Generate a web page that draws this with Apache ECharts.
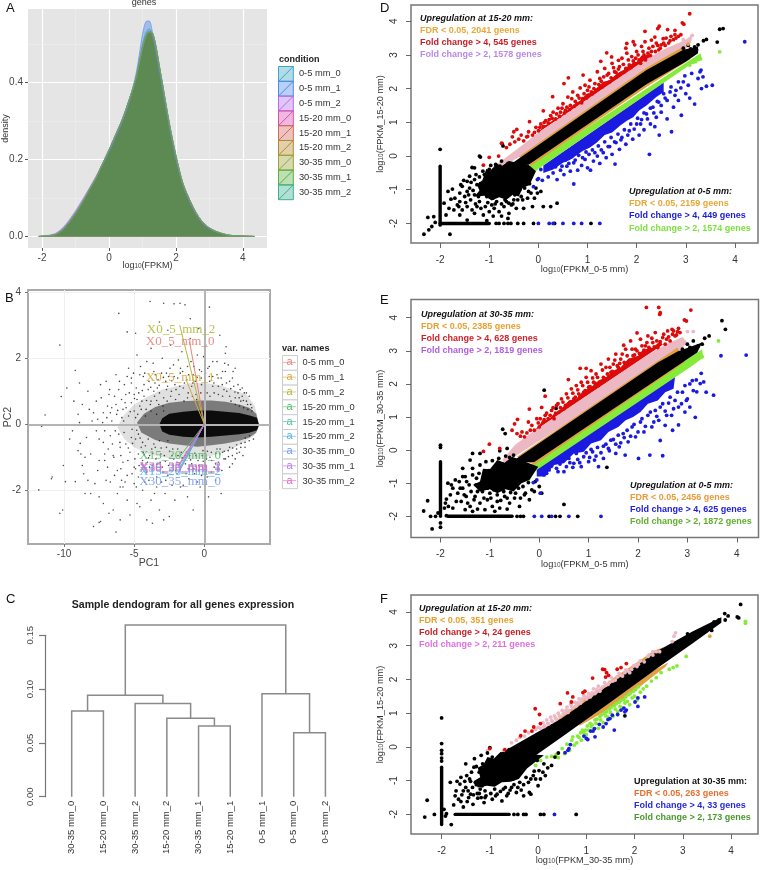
<!DOCTYPE html>
<html><head><meta charset="utf-8"><style>html,body{margin:0;padding:0;background:#fff}#c{width:760px;height:870px}</style>
<script src="https://cdn.jsdelivr.net/npm/echarts@6/dist/echarts.min.js"></script></head><body><div id="c"></div>
<script>
const conditions=['0-5 mm_0','0-5 mm_1','0-5 mm_2','15-20 mm_0','15-20 mm_1','15-20 mm_2','30-35 mm_0','30-35 mm_1','30-35 mm_2'];
const densityX=[-2.1,-1.8,-1.6,-1.4,-1.2,-1,-.8,-.6,-.4,-.2,0,.2,.4,.6,.8,.9,1,1.1,1.2,1.3,1.4,1.5,1.6,1.8,2,2.2,2.4,2.6,2.8,3,3.2,3.4,3.6,3.8,4,4.35];
const densityBlue=[0,.002,.006,.018,.038,.062,.09,.12,.15,.185,.22,.26,.3,.35,.42,.47,.525,.558,.56,.53,.48,.43,.38,.285,.2,.135,.092,.058,.034,.02,.012,.007,.003,.002,.001,0];
const densityLight=[0,.002,.006,.018,.038,.063,.09,.12,.15,.185,.22,.26,.3,.35,.41,.455,.5,.53,.54,.525,.485,.44,.39,.29,.205,.137,.094,.06,.035,.02,.012,.007,.003,.002,.001,0];
const densityMain=[0,.002,.005,.016,.036,.06,.088,.12,.15,.188,.225,.265,.305,.355,.41,.45,.49,.52,.532,.528,.495,.445,.395,.295,.21,.14,.097,.062,.037,.022,.013,.007,.003,.002,.001,0];
const densityPurple=[0,.003,.008,.021,.042,.067,.095,.124,.155,.188,.222,.26,.3,.35,.41,.452,.495,.522,.532,.52,.485,.44,.39,.288,.203,.136,.093,.058,.034,.02,.012,.007,.003,.002,.001,0];
const conditionColors=['#3ea6c6','#4f8ae8','#b36de8','#d84fb0','#d06a5c','#b58a2e','#9aa23a','#58b040','#3fae92'];
const densitySets=[densityLight,densityBlue,densityPurple,densityMain,densityMain,densityMain,densityMain,densityMain,densityMain];

const varNames=['X0_5_mm_0','X0_5_mm_1','X0_5_mm_2','X15_20_mm_0','X15_20_mm_1','X15_20_mm_2','X30_35_mm_0','X30_35_mm_1','X30_35_mm_2'];
const varColors=['#e8837a','#d8a83c','#b4b83a','#55bf68','#4cc4a0','#55b4e8','#7c9cf0','#b878ee','#e868c8'];
const varTips=[[-1.05,2.5],[-1.3,1.35],[-1.75,3],[-1.75,-.98],[-1.7,-1.28],[-1.75,-1.4],[-1.9,-1.5],[-1.85,-1.3],[-1.9,-1.28]];
const varLabels=[[-1.73,2.5],[-1.73,1.41],[-1.66,2.86],[-1.73,-.95],[-1.73,-1.3],[-1.73,-1.44],[-1.73,-1.74],[-1.73,-1.34],[-1.73,-1.28]];
const pcaCore=[[3.9,-.02],[3.75,.2],[3.3,.26],[2.5,.34],[1.5,.38],[.5,.42],[-.5,.42],[-1.5,.38],[-2.5,.32],[-3,.18],[-3.2,0],[-3,-.22],[-2.5,-.32],[-1.5,-.38],[-.5,-.4],[.5,-.38],[1.5,-.34],[2.5,-.3],[3.2,-.26],[3.75,-.18]];
const pcaInner=[[3.9,-.02],[3.7,.32],[3.2,.5],[2.5,.6],[1.5,.68],[.5,.72],[-.5,.72],[-1.5,.7],[-2.5,.65],[-3.5,.52],[-4.3,.32],[-4.8,.05],[-4.5,-.25],[-3.5,-.48],[-2.5,-.58],[-1.5,-.64],[-.5,-.68],[.5,-.64],[1.5,-.58],[2.5,-.5],[3.2,-.4],[3.7,-.26]];
const pcaMid=[[3.9,-.02],[3.6,.55],[3,.9],[2,1.05],[1,1.2],[0,1.25],[-1,1.25],[-2,1.15],[-3,1.05],[-4,.85],[-5,.6],[-5.8,.25],[-6.2,-.1],[-5.7,-.45],[-5,-.7],[-4,-.9],[-3,-1],[-2,-1.05],[-1,-1.05],[0,-1],[1,-.9],[2,-.75],[3,-.5],[3.6,-.33]];
const pcaPoints=[[-3.87,3.72],[-2.9,3.67],[-2.16,3.65],[-1.73,3.67],[-1.38,3.62],[.36,3.55],[-6.1,3.36],[-10.3,2.4],[-9.2,1.63],[-11.8,-1.99],[-10.9,-1.65],[-10.85,-1.6],[-10.2,.84],[-11.35,.28],[-11.6,-.07],[-10.05,-1.25],[-10.1,-2.6],[-10.3,-2.7],[-9.9,-1.74],[-7.9,-3.1],[-7.5,-2.98],[-7.4,-2.95],[-6.3,-3.27],[-4.9,2.76],[-5.5,2.8],[1.55,2.35],[1.5,2.15],[-9.2,-1.74],[-8.85,-.58],[-8.8,-.9],[-8.6,-1.5],[-8.5,-2.1],[-8.1,-2.1],[-7.8,-1.8],[-7.5,-2.2],[-7.2,-2.4],[-7,-1.7],[-6.8,-2.7],[-6.5,-2.6],[-6.2,-2.1],[-6,-2.9],[-5.8,-1.9],[-5.5,-2.3],[-5.3,-2.75],[-5,-1.8],[-4.8,-2.4],[-4.4,-2],[-4.1,-2.9],[-3.8,-2.3],[-3.4,-1.9],[-3.2,-2.6],[-2.8,-2.1],[-2.5,-2.8],[-2.1,-2.3],[-1.7,-1.9],[-1.2,-2.2],[-.8,-2.6],[-.3,-1.9],[.3,-2.2],[.8,-1.7],[1.2,-2.1],[-9,.3],[-8.7,.6],[-8.3,1],[-8,.1],[-7.7,.7],[-7.4,1.2],[-7.2,.35],[-7,1.3],[-6.8,.9],[-6.6,.5],[-6.3,1.5],[-6.1,1.05],[-5.9,.75],[-5.7,1.2],[-5.4,1.7],[-5.2,1.25],[-5,.9],[-4.8,2.1],[-4.6,1.5],[-4.3,1.2],[-4.1,1.9],[-3.8,2.3],[-3.6,1.6],[-3.3,1.35],[-3,2],[-2.7,1.55],[-2.4,2.4],[-2.2,1.8],[-1.9,1.4],[-1.6,2.2],[-1.2,1.75],[-1,2.6],[-.8,1.5],[-.5,2.1],[-.2,1.6],[.1,2.4],[.35,1.45],[.6,1.9],[.9,1.5],[1.1,2.7],[1.3,1.6],[1.7,1.8],[2,1.4],[2.2,1.7],[2.4,1.2],[2.7,1.1],[3,.95],[-9.4,-.2],[-9,-.8],[-8.4,-.4],[-8.1,-.9],[-7.7,-.2],[-7.5,-1.1],[-7.2,-.55],[-6.9,-1.3],[-6.7,-.35],[-6.5,-.95],[-6.2,-1.4],[-6,-.7],[-5.8,-1.15],[-5.5,-1.55],[-5.3,-.85],[-5,-1.3],[-4.7,-1.6],[-4.4,-1.1],[-4.1,-1.45],[-3.7,-1.25],[-3.4,-1.6],[-3,-1.3],[-2.6,-1.55],[-2.2,-1.25],[-1.3,-1.5],[-.9,-1.2],[-.4,-1.4],[.1,-1.25],[.5,-1.45],[1,-1.15],[1.5,-1.05],[2,-1.2],[2.5,-.85],[2.9,-.7],[-6.9,.55],[-6.6,.1],[-6.3,.6],[-6.1,-.3],[-5.8,.45],[-5.6,.9],[-5.4,.25],[-5.2,.65],[-5,.4],[-4.9,-.45],[-4.8,.75],[-4.6,.55],[-4.5,-.7],[-4.3,.85],[-4,1.05],[-3.8,.7],[-3.6,1],[-3.4,.72],[-3.2,.95],[-2.9,.8],[-2.7,1.05],[-2.4,.85],[-2.1,1.2],[-1.8,.9],[-1.5,1.1],[-1.2,.8],[-.9,1.15],[-.6,.9],[-.2,1.2],[.2,.95],[.6,1.15],[1,.9],[1.4,1.05],[1.8,.85],[2.2,.8],[2.6,.7],[-5.6,-.6],[-5.2,-.4],[-4.7,-.9],[-4.2,-.65],[-3.9,-.95],[-3.5,-.7],[-3.1,-.9],[-2.7,-.7],[-2.3,-.95],[-1.9,-.75],[-1.4,-.95],[-1,-.75],[-.6,-.95],[-.1,-.8],[.4,-1],[.9,-.75],[1.3,-.85],[1.8,-.7],[2.3,-.62],[-5.9,-1.7],[-2.6,2.85],[-3.2,3.1],[-1,3.2],[-.4,2.9],[-7.1,-.9],[-8.9,1.25],[-6,-1.9],[-4.6,-2.5],[-3.7,-3],[-2.9,-2.9]];
const pcaPoints2=[[-7.9,.35],[-7.6,.15],[-7.35,.8],[-7.1,-.2],[-6.95,.2],[-6.75,1.05],[-6.55,-.6],[-6.4,.85],[-6.25,.3],[-6.05,1.3],[-5.95,-.95],[-5.75,.1],[-5.65,.65],[-5.5,1.45],[-5.45,-1.1],[-5.35,.95],[-5.15,-.15],[-5.05,1.55],[-4.95,-1.05],[-4.85,1.1],[-4.75,.3],[-4.65,-1.25],[-4.55,1.75],[-4.45,.7],[-4.35,-.85],[-4.25,1.55],[-4.15,.45],[-4.05,-1.15],[-3.95,1.3],[-3.85,.6],[-3.75,-.75],[-3.65,1.85],[-3.55,.85],[-3.45,-1.05],[-3.35,1.1],[-3.25,.6],[-3.15,-1.15],[-3.05,1.55],[-2.95,.55],[-2.85,-.95],[-2.75,1.3],[-2.65,.7],[-2.55,-1.25],[-2.45,1.7],[-2.35,1],[-2.25,-.75],[-2.15,1.45],[-2.05,.75],[-1.95,-1.15],[-1.85,1.95],[-1.75,1.15],[-1.65,-.85],[-1.55,1.6],[-1.45,.7],[-1.35,-1.2],[-1.25,1.35],[-1.15,.95],[-1.05,-.95],[-.95,1.9],[-.85,.85],[-.75,-1.35],[-.65,1.3],[-.55,.75],[-.45,-1.1],[-.35,1.65],[-.25,.95],[-.15,-.95],[-.05,2.05],[.05,1.1],[.15,-1.05],[.25,1.7],[.4,.85],[.5,-.85],[.6,1.45],[.7,.95],[.8,-1.2],[.9,1.9],[1,1.15],[1.1,-.9],[1.2,1.4],[1.3,.85],[1.4,-1.05],[1.5,1.6],[1.6,1],[1.7,-.8],[1.8,1.3],[1.9,.7],[2,-.95],[2.1,1.15],[2.2,.6],[2.3,-.75],[2.4,.95],[2.5,.55],[2.6,-.7],[2.7,.85],[2.8,.5],[2.9,-.55],[3,.7],[3.1,.45],[3.2,-.5],[3.3,.6],[3.4,.4],[3.5,-.45],[-4.9,.2],[-4.7,-.3],[-4.5,.45],[-4.4,-.55],[-4.2,.25],[-4,-.45],[-3.8,.4],[-3.6,-.6],[-3.4,.3],[-3.2,-.5],[-2.9,.4],[-2.6,-.5],[-8.5,-1],[-8.2,.45],[-8.9,.05],[-9.6,-.45],[-9.3,.7],[-9.8,1.1],[-8.7,-1.25],[-8.3,-1.7],[-7.6,-1.4],[-7.1,-1.1],[-6.7,-1.75],[-6.4,-1.55],[-5.95,-1.35],[-5.65,-1.75],[-5.15,-1.5],[-4.85,-1.9],[-4.25,-1.75],[-3.95,-1.7],[-3.55,-2.1],[-3.05,-1.75],[-2.75,-1.7],[-2.3,-1.85],[-1.95,-1.5],[-1.5,-1.85],[-1.1,-1.65],[-.7,-1.5],[-.5,-1.75],[.2,-1.6],[.7,-1.3],[1.25,-1.4],[1.8,-1.3],[2.2,-1.05],[2.75,-.95]];
const pcaPoints3=[[-6.35,-.2],[-6.18,.42],[-6.02,-.55],[-5.88,.2],[-5.72,-.25],[-5.58,.5],[-5.42,-.72],[-5.28,.38],[-5.12,-.58],[-4.98,.78],[-4.82,-.18],[-4.68,.95],[-4.58,-.42],[-4.42,1.02],[-4.28,-.92],[-4.12,.72],[-3.98,-1.02],[-3.82,1.12],[-3.68,-.88],[-3.52,1.25],[-3.38,-1.22],[-3.22,1.18],[-3.08,-.72],[-2.92,1.42],[-2.78,-1.12],[-2.62,1.15],[-2.48,-.82],[-2.32,1.32],[-2.18,-1.05],[-2.02,1.05],[-1.88,-.95],[-1.72,1.55],[-1.58,-1.02],[-1.42,1.25],[-1.28,-.85],[-1.12,1.5],[-.98,-1.08],[-.82,1.25],[-.68,-.88],[-.52,1.42],[-.38,-1.25],[-.22,1.4],[-.08,-1.12],[.08,1.55],[.22,-.82],[.38,1.3],[.52,-1.1],[.68,1.25],[.82,-.88],[.98,1.4],[1.12,-.75],[1.28,1.2],[1.42,-.82],[1.58,1.25],[1.72,-.98],[1.88,1.08],[2.02,-.72],[2.18,.98],[2.32,-.88],[2.48,.8],[2.62,-.58],[2.78,.72],[2.92,-.42],[3.08,.6],[3.22,-.35],[3.38,.5],[-7.5,-.45],[-7.25,.05],[-6.85,-.75],[-6.7,.35],[-6.45,-1],[-5.2,1.4],[-4.9,-1.35],[-4.35,1.45],[-3.9,-1.3],[-3.5,1.5],[-2.95,-1.45],[-2.55,1.45],[-2.05,-1.4],[-1.7,1.7],[-1.15,-1.35],[-.75,1.75],[-.2,-1.55],[.35,1.75],[.95,-1.35],[1.45,1.85],[2.05,1.6],[2.55,1.05],[2.85,.95],[3.2,.85]];

const leafLabels=['30-35 mm_0','15-20 mm_0','30-35 mm_2','15-20 mm_2','30-35 mm_1','15-20 mm_1','0-5 mm_1','0-5 mm_0','0-5 mm_2'];
const dendroMerges=[[1,0,2,0,.0796],[5,0,6,0,.0657],[4,0,5.5,.0657,.0728],[3,0,4.75,.0728,.0867],[1.5,.0796,3.875,.0867,.0942],[8,0,9,0,.0595],[7,0,8.5,.0595,.0957],[2.69,.0942,7.75,.0957,.1595]];

const redD=[[3.08,4.22],[2.96,3.91],[2.93,3.95],[2.46,3.85],[2.43,3.78],[2.17,3.7],[2.63,3.75],[2.78,3.73],[2.78,3.6],[2.37,3.53],[2.54,3.48],[2.3,3.44],[2.17,3.39],[1.93,3.39],[1.8,3.34],[1.96,3.3],[1.78,3.2],[1.39,3.06],[1.27,2.81],[1.49,2.94],[1.63,2.84],[.61,2.32],[.91,2.4],[.52,2.15],[.29,1.76],[.1,1.34],[-.18,1.02],[-.44,.79],[-.5,.72],[-.53,.57],[-.24,.57],[-.75,.38],[-1,-.04],[-.81,0],[-1.12,-.27],[-.4,.5],[-.35,.62],[-.3,.45],[-.2,.72],[-.12,.62],[-.05,.85],[0,.75],[.05,.95],[.1,.88],[.15,1.05],[.2,.98],[.25,1.2],[.3,1.3],[.35,1.1],[.4,1.42],[.45,1.3],[.5,1.55],[.55,1.35],[.6,1.75],[.65,1.5],[.7,1.9],[.75,1.62],[.8,1.8],[.85,2.02],[.9,1.7],[.95,2.1],[1,1.95],[1.05,2.25],[1.1,1.85],[1.15,2.15],[1.2,2.5],[1.25,2.3],[1.3,2.05],[1.35,2.6],[1.4,2.4],[1.45,2.2],[1.5,2.75],[1.55,2.5],[1.6,2.35],[1.65,2.65],[1.7,2.9],[1.75,2.5],[1.8,3.05],[1.85,2.7],[1.9,2.95],[1.95,2.75],[2,3.1],[2.05,2.85],[2.1,3.25],[2.15,3],[2.2,2.95],[2.25,3.2],[2.3,3.1],[2.4,3.35],[2.45,3.15],[2.5,3.3],[2.6,3.5],[2.65,3.35],[2.7,3.55],[2.8,3.5],[2.9,3.6]];
const redD2=[[-.65,.25],[-.58,.35],[-.48,.42],[-.22,.58],[-.08,.7],[.03,.85],[.12,1],[.22,1.08],[.28,1.12],[.37,1.25],[.43,1.18],[.48,1.42],[.53,1.28],[.58,1.45],[.63,1.38],[.68,1.7],[.73,1.48],[.78,1.55],[.83,1.72],[.88,1.58],[.93,1.85],[.98,1.72],[1.03,2.05],[1.08,1.9],[1.13,2],[1.18,1.95],[1.23,2.12],[1.28,2.22],[1.33,2.35],[1.38,2.15],[1.43,2.45],[1.48,2.32],[1.53,2.62],[1.58,2.48],[1.63,2.58],[1.68,2.45],[1.73,2.72],[1.78,2.6],[1.83,2.85],[1.88,2.62],[1.93,2.82],[1.98,2.9],[2.03,3],[2.08,2.75],[2.13,3.1],[2.18,2.85],[2.23,3.05],[2.28,2.98],[2.33,3.25],[2.38,3.1],[2.43,3.28],[2.48,3.2],[2.55,3.35],[2.58,3.28],[2.68,3.42],[2.75,3.45],[2.85,3.55]];
const blueD=[[4.2,3.39],[3.31,2.55],[3.29,2.5],[3.35,2.35],[3.25,2.3],[3.54,2.1],[3.32,2],[3.42,2.07],[3.18,1.54],[2.91,1.21],[2.71,.72],[2.46,.62],[2.26,.05],[2.37,.87],[1.56,-.24],[.72,-.83],[-.1,-.91],[-.02,-.7],[0,-.67],[.08,-.72],[.2,-.62],[.3,-.5],[.38,-.7],[.45,-.42],[.52,-.55],[.58,-.3],[.65,-.45],[.72,-.2],[.8,-.42],[.88,-.28],[.95,-.1],[1,-.35],[1.06,-.42],[1.12,-.15],[1.2,0],[1.25,-.22],[1.32,.1],[1.38,-.05],[1.45,.28],[1.5,.05],[1.58,.4],[1.65,.2],[1.7,.55],[1.78,.35],[1.85,.75],[1.92,.5],[2,.95],[2.05,.62],[2.1,1.08],[2.15,.78],[2.2,1.25],[2.28,.95],[2.33,1.45],[2.4,1.15],[2.45,1.6],[2.5,1.3],[2.58,1.72],[2.62,1.1],[2.68,1.9],[2.75,1.45],[2.8,1.95],[2.85,1.65],[2.95,2.2],[3,1.85],[3.08,1.72],[.88,-2],[1.25,-2],[.72,-2],[.5,-2],[.22,-2],[.3,-2],[0,-2]];
const blueD2=[[.05,-.4],[.15,-.35],[.25,-.28],[.35,-.32],[.42,-.2],[.48,-.3],[.55,-.12],[.62,-.22],[.68,-.02],[.75,-.12],[.82,.02],[.9,-.05],[.97,.12],[1.03,.05],[1.1,.18],[1.15,.1],[1.22,.3],[1.28,.18],[1.35,.42],[1.42,.28],[1.48,.55],[1.55,.42],[1.62,.65],[1.68,.48],[1.75,.78],[1.82,.62],[1.88,.95],[1.95,.8],[2.02,1.12],[2.08,.95],[2.15,1.28],[2.22,1.1],[2.28,1.42],[2.35,1.28],[2.42,1.62],[2.5,1.5],[2.55,1.85],[2.62,1.65],[2.7,2.05],[2.78,1.8],[2.85,2.2],[2.9,2.02],[2.98,2.38],[3.05,2.1],[3.12,2.45]];
const blackD=[[-2,.2],[-.74,.37],[-.72,.3],[-1.2,0],[-1.18,-.03],[-1.35,-.34],[-1.3,-.35],[-2.33,-2.32],[-2.23,-2.19],[-2.17,-2.09],[-2.1,-1.97],[-2.25,-1.82],[-2.13,-1.8],[-1.8,-2.32],[-1.75,-.98],[-1.78,-1.28],[-1.7,-1.25],[-1.72,-1.6],[-1.65,-1.45],[-1.6,-1.1],[-1.55,-.9],[-1.6,-1.35],[-1.5,-1.2],[-1.52,-.72],[-1.45,-.75],[-1.45,-1.05],[-1.45,-1.5],[-1.4,-.6],[-1.4,-.95],[-1.38,-1.3],[-1.35,-1.6],[-1.3,-.7],[-1.3,-1.15],[-1.25,-.85],[-1.25,-1.5],[-1.2,-.62],[-1.2,-1.35],[-1.15,-.95],[-1.12,-1.75],[-1.1,-.55],[-1.08,-1.5],[-1.05,-1.2],[-1,-.4],[-1,-1.65],[-.95,-1.45],[-.9,-1.55],[-.85,-1.35],[-.8,-1.65],[-.75,-.15],[-.7,-1.5],[-.65,-1.35],[-.6,-1.7],[-.55,-1.45],[-.5,-1.3],[-.45,-1.55],[-.35,-1.2],[-.3,-1.55],[-.2,-1.05],[-.12,-1.5],[.1,-1.5],[.25,-1.5],[.38,-1.4],[-.08,-1.25],[-1.05,-1.92],[-1.45,-1.9],[-1.6,-1.75],[-.1,-2],[.33,-2],[1.07,-2],[-.3,-2],[-.42,-2],[-.56,-2],[-.62,-2],[-.7,-2],[-.8,-2],[-.86,-2],[3.69,3.76],[3.76,3.78],[3.64,3.38],[3.42,3.46],[3.36,3.42],[3.25,3.3],[3.18,3.24],[3.1,3.18],[3.05,3.28],[2.95,3.2],[3.22,3.15],[3,3.05]];
const blackD2=[[-1.62,-1.5],[-1.58,-.85],[-1.48,-1.38],[-1.42,-1.15],[-1.37,-.78],[-1.33,-1.02],[-1.28,-1.42],[-1.27,-.55],[-1.22,-1.2],[-1.18,-.82],[-1.17,-1.55],[-1.13,-.45],[-1.1,-1.1],[-1.07,-.72],[-1.03,-1.38],[-1.02,-.55],[-.98,-.9],[-.97,-.28],[-.93,-1.25],[-.92,-.42],[-.88,-1.42],[-.87,-.25],[-.83,-1.15],[-.78,-.3],[-.75,-1.42],[-.72,-.5],[-.68,-1.3],[-.62,-.22],[-.6,-1.4],[-.58,-.95],[-.52,-1.42],[-.48,-1.15],[-.42,-1.3],[-.38,-1],[-.32,-1.3],[-.28,-.95],[-.22,-1.25],[-.18,-.82],[-.15,-1.1],[-.05,-.95],[-.02,-1.1],[.05,-1.05],[-1.92,-1.4],[-1.88,-1.75],[-1.84,-1.05],[-1.82,-1.55],[-1.55,-1.6],[-1.3,-1.7],[-.92,-1.78],[-.75,-1.78],[-.62,-1.85]];
const greenD=[[3.69,3.09],[3.3,2.88],[3.25,2.86],[3.2,2.8],[3.15,2.78],[3.08,2.7]];
const pinkD=[[3.13,3.58],[3.05,3.4],[2.95,3.45]];
const orangeD=[[3.05,3.32]];
const denseRedD=[[0,.7],[.1,.9],[.2,.95],[.31,1.08],[.42,1.15],[.58,1.35],[.7,1.5],[.85,1.65],[.98,1.85],[1.1,1.9],[1.32,2.2],[1.45,2.25],[1.6,2.45],[1.73,2.55],[1.85,2.7],[2,2.8],[2.1,2.98],[2.25,3],[2.3,2.95]];
const denseBlueD=[[.1,-.28],[2.55,2.19],[2.55,1.9],[2.4,1.75],[2.2,1.5],[2.05,1.35],[1.93,1.15],[1.8,1.05],[1.66,.9],[1.5,.7],[1.35,.62],[1.19,.4],[1.05,.25],[.9,.15],[.64,-.12],[.5,-.2],[.3,-.4],[.1,-.5]];
const bandPinkD=[[-.92,-.32],[-.6,.02],[-.3,.35],[0,.7],[2.2,2.88],[2.6,3.2],[3,3.45],[3.15,3.62],[3.1,3.35],[2.95,3.1],[-.3,.05],[-.85,-.42]];
const bandGreenD=[[-.35,-.8],[-.3,-.45],[-.1,-.2],[3.3,3.05],[3.32,2.92],[3.1,2.72],[0,-.38],[-.1,-.52],[-.3,-.85]];
const bandOrangeD=[[-.4,-.02],[2.2,2.62],[2.92,3.22],[3,3.05],[3.1,2.88],[2.2,2.05],[-.15,-.29]];
const bandBlackD=[[-.6,-.28],[2.2,2.55],[2.95,3.15],[3.25,3.25],[3.25,3.05],[3,2.8],[2.2,2.13],[-.2,-.26]];
const blobD=[[-.6,-.15],[-.75,-.3],[-.85,-.22],[-.98,-.45],[-1.06,-.38],[-1.14,-.72],[-1.25,-.85],[-1.2,-1.02],[-1.3,-1.2],[-1.1,-1.18],[-.95,-1.32],[-.8,-1.22],[-.65,-1.3],[-.52,-1.15],[-.4,-1.2],[-.32,-.95],[-.18,-.86],[-.05,-.45],[-.2,-.26]];
const stripVD=[[-2,-2.05],[-2,-.3]];
const stripHD=[[-2,-2],[-1,-2]];

const redE=[[2.17,4.31],[2.42,4.31],[2.45,4.15],[2.44,4.1],[3.07,4.23],[2.94,3.93],[2.98,3.9],[2.69,3.65],[2.72,3.6],[2.82,3.68],[1.98,3.54],[1.71,3.17],[.83,2.47],[.95,2.47],[.59,2.13],[.12,1.63],[.05,1.29],[-.2,1.24],[-.44,.93],[-.5,.79],[-1.01,.18],[-1.13,-.04],[-.8,.05],[-.55,.6],[-.45,.5],[-.35,.55],[-.3,.4],[-.22,.85],[-.15,.75],[-.1,.6],[-.05,.95],[0,.7],[.08,.85],[.12,1.05],[.18,.95],[.25,1.2],[.3,.95],[.35,1.35],[.4,1.15],[.45,1.55],[.5,1.25],[.55,1.7],[.6,1.4],[.65,1.85],[.7,1.55],[.75,1.95],[.8,1.7],[.85,2.05],[.9,1.75],[.95,2.2],[1,1.9],[1.05,2.4],[1.1,2.05],[1.15,2.3],[1.2,1.95],[1.25,2.6],[1.3,2.2],[1.35,2.5],[1.4,2.75],[1.45,2.35],[1.5,2.6],[1.55,2.9],[1.6,2.5],[1.65,2.75],[1.75,3.05],[1.8,2.65],[1.85,3.3],[1.9,2.85],[1.95,3.05],[2.05,3.35],[2.1,2.95],[2.15,3.15],[2.2,3.45],[2.25,3.05],[2.3,3.25],[2.35,3.55],[2.4,3.1],[2.5,3.4],[2.55,3.2],[2.6,3.6],[2.65,3.3],[2.75,3.45],[2.8,3.58]];
const redE2=[[-.38,.42],[-.25,.52],[-.18,.6],[-.02,.82],[.02,.95],[.1,.92],[.15,1.12],[.22,1.05],[.28,1.28],[.33,1.12],[.38,1.4],[.43,1.28],[.48,1.45],[.53,1.35],[.58,1.58],[.63,1.45],[.68,1.72],[.73,1.6],[.78,1.82],[.83,1.62],[.88,1.95],[.93,1.8],[.98,2.05],[1.03,1.92],[1.08,2.18],[1.13,2.02],[1.18,2.2],[1.23,2.05],[1.28,2.42],[1.33,2.15],[1.38,2.3],[1.43,2.5],[1.48,2.38],[1.53,2.72],[1.58,2.55],[1.63,2.62],[1.68,2.9],[1.72,2.65],[1.78,2.85],[1.83,2.72],[1.88,3.05],[1.93,2.88],[1.98,3],[2.03,2.92],[2.08,3.15],[2.12,3.02],[2.18,3.25],[2.22,3.1],[2.28,3.38],[2.33,3.12],[2.38,3.3],[2.45,3.28],[2.52,3.5],[2.58,3.35],[2.62,3.42],[2.7,3.5],[2.78,3.48],[2.85,3.55]];
const blueE=[[4.19,2.87],[3.68,2.85],[3.28,2.32],[3.33,2.06],[3.26,2.01],[3.19,1.76],[3.38,1.75],[3.53,1.66],[3.16,.99],[2.82,.76],[2.5,-.17],[2.45,.29],[2.24,-.15],[2.01,-.25],[1.74,-.15],[1.55,-.1],[1.3,-.25],[1.2,-.5],[1.0,-.35],[.85,-.5],[.7,-.4],[.5,-.65],[.35,-.55],[.2,-.6],[.1,-.75],[-.05,-.9],[-.12,-.98],[.02,-1.3],[-.1,-2],[.05,-2],[.25,-2],[.6,-2],[1.25,-2],[.3,-.35],[.45,-.3],[.6,-.25],[.75,-.1],[.9,-.2],[1.05,.02],[1.15,-.18],[1.3,.12],[1.42,-.02],[1.5,.32],[1.62,.1],[1.7,.5],[1.8,.25],[1.88,.7],[1.95,.4],[2.05,.85],[2.12,.55],[2.2,1.05],[2.28,.7],[2.35,1.2],[2.42,.9],[2.5,1.4],[2.58,1.05],[2.65,1.6],[2.72,1.25],[2.8,1.75],[2.88,1.4],[2.95,1.95],[3,1.55],[3.1,2.1],[3.05,1.3],[2.95,1.15],[2.7,.6],[2.55,.75]];
const blueE2=[[.15,-.7],[.25,-.48],[.38,-.65],[.42,-.42],[.55,-.5],[.62,-.38],[.68,-.52],[.78,-.28],[.82,-.38],[.95,-.08],[1.02,-.22],[1.08,-.05],[1.12,-.3],[1.18,.08],[1.25,-.08],[1.35,.18],[1.4,.05],[1.45,.3],[1.55,.18],[1.6,.45],[1.65,.22],[1.72,.38],[1.78,.6],[1.85,.42],[1.92,.78],[2,.55],[2.08,.95],[2.15,.72],[2.25,1.15],[2.32,.85],[2.38,1.02],[2.45,1.3],[2.55,1.18],[2.62,1.42],[2.68,1.05],[2.75,1.5],[2.82,1.3],[2.9,1.75],[2.98,1.5],[3.05,2],[3.12,1.8],[3.18,2.12]];
const blackE=[[.1,1.81],[.34,1.26],[-.74,.63],[-.69,.5],[-2,.15],[-2,.08],[.5,-1.64],[1.37,-.52],[-2.26,-1.53],[-2.34,-1.84],[-2.17,-2.38],[-2,-2.2],[-2,-2.33],[3.7,3.91],[3.77,3.65],[3.44,3.45],[3.35,3.38],[3.3,3.2],[3.22,3.15],[3.12,3.3],[3.05,3.1],[3,3.2],[2.9,3.05],[-.65,.05],[-.8,-.02],[-1.2,-.1],[-1.35,-.1],[-1.4,-.3],[-1.55,-.55],[-1.7,-.9],[-1.85,-1],[-1.8,-1.35],[-1.75,-1.15],[-1.65,-1.3],[-1.62,-.95],[-1.58,-1.55],[-1.55,-1.15],[-1.5,-.8],[-1.48,-1.4],[-1.42,-1.05],[-1.4,-1.7],[-1.35,-.75],[-1.3,-1.4],[-1.28,-1.05],[-1.22,-.7],[-1.2,-1.6],[-1.15,-1.25],[-1.1,-1.8],[-1.05,-1.5],[-1,-1.3],[-.95,-1.7],[-.85,-1.55],[-.8,-1.75],[-.7,-1.4],[-.6,-1.6],[-.5,-1.45],[-.4,-1.7],[-.3,-1.35],[-.2,-1.5],[-.1,-1.25],[.05,-1.3],[-1.92,-1.75],[-1.9,-1.6],[-1.88,-1.98],[-2.05,-1.9],[-2.1,-2],[-2.2,-2],[-1.75,-1.75],[-.45,-2],[-.38,-2],[-.32,-2],[.2,-2],[.33,-2],[.42,-2],[.78,-2]];
const blackE2=[[-1.78,-1.05],[-1.68,-1.55],[-1.6,-1.15],[-1.55,-.8],[-1.52,-1.35],[-1.47,-.95],[-1.45,-1.6],[-1.38,-1.25],[-1.35,-.55],[-1.32,-1.5],[-1.27,-.85],[-1.25,-1.25],[-1.2,-.45],[-1.18,-1.05],[-1.13,-.8],[-1.12,-1.45],[-1.08,-.35],[-1.05,-1.15],[-1.02,-.62],[-.98,-1.45],[-.95,-.32],[-.92,-1.2],[-.88,-.55],[-.85,-1.35],[-.82,-.25],[-.78,-1.52],[-.75,-.42],[-.72,-1.25],[-.68,-.18],[-.65,-1.45],[-.6,-.22],[-.58,-1.28],[-.52,-.15],[-.48,-1.3],[-.42,-1.15],[-.38,-1.45],[-.33,-1.1],[-.28,-1.3],[-.22,-.98],[-.15,-1.2],[-.08,-.95],[0,-1.1],[-1.88,-1.48],[-1.84,-1.7],[-1.5,-1.8],[-1.25,-1.78],[-.9,-1.85],[-.65,-1.78],[-1.35,-1.85]];
const greenE=[[3.63,3.3],[3.3,2.82],[3.2,2.78],[3.1,2.72],[3,2.66]];
const pinkE=[[3,3.58],[3.12,3.58],[2.9,3.3]];
const denseRedE=[[-.1,.58],[.05,.85],[.2,.95],[.3,1.1],[.45,1.25],[.6,1.5],[.75,1.55],[.9,1.8],[1.05,1.9],[1.2,2.1],[1.35,2.2],[1.5,2.4],[1.65,2.5],[1.8,2.75],[2,2.85],[2.15,3.05],[2.3,3.1],[2.45,3.3],[2.5,3.18]];
const denseBlueE=[[-.05,-.58],[2.75,2.22],[2.72,1.85],[2.55,1.75],[2.4,1.5],[2.2,1.4],[2.05,1.15],[1.9,1],[1.75,.9],[1.6,.7],[1.4,.55],[1.25,.3],[1.05,.2],[.9,-.05],[.7,-.1],[.5,-.4],[.3,-.45],[.1,-.8],[-.05,-.8]];
const bandPinkE=[[-.75,-.3],[-.5,.15],[-.2,.48],[2.2,2.88],[2.6,3.22],[2.9,3.42],[3,3.25],[2.8,2.95],[-.4,-.1],[-.7,-.4]];
const bandGreenE=[[-.3,-.85],[-.28,-.55],[0,-.25],[3.3,3.05],[3.32,2.8],[3.1,2.55],[0,-.55],[-.1,-.65],[-.2,-.95]];
const bandOrangeE=[[-.45,-.2],[2.8,3.1],[2.95,2.66],[-.1,-.44]];
const bandBlackE=[[-.6,-.4],[2.4,2.65],[2.8,2.98],[3.3,3.25],[3.2,2.95],[2.5,2.25],[-.1,-.36]];
const blobE=[[-.55,-.2],[-.7,-.38],[-.85,-.3],[-1,-.58],[-1.14,-.56],[-1.2,-.95],[-1.34,-1.05],[-1.2,-1.25],[-1,-1.18],[-.85,-1.3],[-.68,-1.18],[-.52,-1.25],[-.36,-1],[-.2,-.9],[-.02,-.5]];
const stripVE=[[-2,-2],[-2,-.35]];
const stripHE=[[-1.85,-2],[-.55,-2]];

const redF=[[1.34,2.3],[1.38,2.29],[1.42,2.2],[1.46,2.12],[1.4,2.07],[1.13,2.04],[1.64,2.3],[1.72,2.35],[1.83,2.47],[.61,1.6],[.72,1.48],[.97,1.65],[.93,1.61],[.69,1.33],[.46,1.28],[-.06,1.13],[.03,.96],[.05,.69],[-.09,.59],[-.13,.47],[-.27,.47],[-.36,.33],[-1,-.05],[-.69,-.08]];
const blueF=[[2.21,1.48],[2.07,1.45],[2.07,1.2],[2.01,1.33],[1.83,1.09],[1.78,1.15],[1.72,1.09],[1.8,1.04],[1.65,.96],[1.54,.94],[1.49,.84],[1.45,.81],[1.41,.69],[1.35,.59],[1.27,.67],[1.58,.5],[1.17,.54],[1.14,.47],[1.09,.47],[1.18,.3],[.95,.32],[1.03,.22],[1,.25],[.67,.07],[.64,-.05],[.62,-.1],[.56,-.17],[.34,-2]];
const blackF=[[-2,.86],[-2,.1],[-2,-.1],[-2,-.2],[-2,-.33],[-2,-.42],[4.2,4.22],[3.87,3.95],[3.94,3.88],[3.88,3.76],[4.13,3.85],[4.16,3.82],[3.75,3.76],[3.65,3.7],[3.55,3.55],[3.45,3.5],[3.6,3.45],[3.35,3.4],[3.1,3.35],[-2.3,-1.58],[-2.35,-2.08],[-2.15,-2],[-1.8,-2.3],[-1.92,-2.05],[-1.95,-1.85],[-1.9,-1.98],[-1.82,-1.05],[-1.75,-1.72],[-1.7,-1.3],[-1.65,-1.55],[-1.62,-1.1],[-1.58,-1.42],[-1.55,-1.78],[-1.5,-.5],[-1.5,-1.2],[-1.47,-1.62],[-1.42,-.95],[-1.4,-1.4],[-1.38,-.75],[-1.35,-1.7],[-1.3,-1.05],[-1.28,-.58],[-1.25,-1.52],[-1.2,-1.25],[-1.15,-.5],[-1.12,-1.65],[-1.08,-1.45],[-1,-.02],[-1.02,-.4],[-.95,-1.55],[-.85,-1.4],[-.75,-1.6],[-.72,-1.25],[-.65,-1.45],[-.55,-1.2],[-.45,-1.35],[-.38,-1.05],[-.3,-1.45],[-.2,-1.05],[-.1,-.85],[0,-1.15],[.05,-.95],[-.18,-1.35],[-.15,-1.4],[.1,-.75],[.15,-.85],[.2,-.62],[-.5,-2],[-.42,-2],[-.3,-2],[-.25,-2],[.05,-2],[.12,-2],[.79,-2],[1.8,.92],[1.53,1.5]];
const blackF2=[[-1.6,-.9],[-1.55,-1.3],[-1.48,-.85],[-1.44,-1.5],[-1.36,-1.2],[-1.33,-.6],[-1.26,-1.38],[-1.22,-.75],[-1.18,-1.5],[-1.14,-.82],[-1.1,-1.3],[-1.05,-.65],[-.98,-1.38],[-.95,-.3],[-.9,-1.25],[-.85,-.4],[-.78,-1.32],[-.72,-.2],[-.68,-1.2],[-.6,-.08],[-.58,-1.28],[-.5,-1.12],[-.42,-1.2],[-.3,-1.12],[-.25,-.9],[-.05,-.95],[.02,-.7],[-1.32,-.35],[-1.18,-.25],[-1.05,-.18],[-1.72,-1.45],[-1.68,-1.02],[-1.6,-1.62],[-1.52,-1.02],[-1.45,-1.3],[-1.4,-1.02],[-1.34,-1.42],[-1.28,-1.12],[-1.22,-1.38],[-1.16,-1.15],[-1.1,-1.5],[-1.04,-1.05],[-.96,-.92],[-.88,-1.45],[-.8,-.55],[-.62,-1.38],[-.52,-.95],[-.35,-1.28],[-.15,-.95],[-.08,-.72],[.28,-.55],[.35,-.3],[.12,-.5],[-.02,-.4],[.42,-.18]];
const pinkF=[[-.55,.12],[-.45,.2],[-.38,.28],[-.28,.32],[-.2,.42],[-.12,.46],[-.05,.52],[0,.58],[.05,.55],[.1,.72],[.14,.62],[.18,.8],[.22,.68],[.26,.88],[.3,.75],[.34,.92],[.38,.82],[.42,1],[.46,.9],[.5,1.08],[.55,1],[.6,1.18],[.64,1.08],[.68,1.26],[.72,1.15],[.76,1.32],[.8,1.24],[.85,1.42],[.9,1.35],[.95,1.52],[1,1.42],[1.05,1.58],[1.1,1.52],[1.15,1.72],[1.2,1.62],[1.25,1.8],[1.3,1.72],[1.38,1.9],[1.45,1.85],[1.52,2.05],[1.6,1.98],[1.68,2.18],[1.75,2.1],[1.82,2.28],[1.9,2.2],[1.98,2.4],[2.05,2.38],[2.12,2.55],[2.2,2.52],[2.28,2.68],[2.38,2.72],[2.45,2.82],[2.52,2.82],[2.38,2.82],[2.3,2.72],[2.85,3.38],[2.82,3.28],[2.78,3.12],[-1.05,-.1],[-.72,-.12]];
const pinkF2=[[.12,.6],[.2,.7],[.28,.78],[.36,.85],[.44,.92],[.52,.98],[.58,1.08],[.62,1.02],[.7,1.2],[.78,1.2],[.82,1.3],[.88,1.3],[.92,1.42],[.98,1.45],[1.02,1.48],[1.08,1.48],[1.12,1.6],[1.18,1.58],[1.22,1.7],[1.28,1.65],[1.34,1.78],[1.4,1.82],[1.48,1.92],[1.55,1.95],[1.64,2.08],[1.72,2.12],[1.8,2.2],[1.86,2.25],[1.94,2.3],[2.02,2.42],[2.08,2.45]];
const greenF=[[-.05,-.55],[.05,-.4],[.18,-.3],[.28,-.28],[.38,-.22],[.42,-.32],[.5,-.05],[.55,-.2],[.6,.08],[.65,-.1],[.7,.2],[.75,.05],[.8,.12],[.85,.28],[.9,.2],[.95,.42],[1,.36],[1.05,.5],[1.1,.6],[1.15,.52],[1.2,.7],[1.25,.55],[1.3,.8],[1.35,.72],[1.4,.92],[1.45,.88],[1.5,1.02],[1.55,.9],[1.6,1.12],[1.65,1.05],[1.7,1.2],[1.75,1.15],[1.8,1.3],[1.85,1.35],[1.9,1.25],[1.95,1.45],[2,1.5],[2.05,1.38],[2.12,1.62],[2.18,1.72],[2.25,1.8],[2.35,1.95],[2.45,2.05],[2.55,2.2],[2.72,2.3],[2.8,2.35],[2.88,2.4],[3.07,2.68],[4.3,3.72],[4.3,3.66]];
const greenF2=[[.72,.3],[.82,.32],[.88,.42],[.92,.5],[.98,.5],[1.02,.62],[1.08,.7],[1.12,.65],[1.18,.8],[1.22,.82],[1.28,.9],[1.32,.95],[1.38,1],[1.42,1.05],[1.48,1.12],[1.52,1.18],[1.58,1.22],[1.62,1.28],[1.68,1.32],[1.72,1.38],[1.78,1.4],[1.82,1.48],[1.88,1.55],[1.92,1.6],[1.98,1.65],[2.02,1.7],[2.08,1.78]];
const bandOrangeF=[[.4,.8],[.7,1.15],[1,1.46],[1.3,1.74],[1.6,2.08],[2.05,2.5],[2.4,2.85],[2.6,2.95],[2.6,2.7],[.5,.6]];
const bandOrangeLowF=[[.85,.62],[1.1,.82],[1.35,1.02],[1.65,1.3],[1.95,1.6],[2.3,2],[2.65,2.38],[2.7,2.5],[2,1.95],[1.4,1.35],[.9,.8]];
const bandBlackF=[[-.8,-.2],[.5,.86],[1.5,1.86],[2.5,2.86],[3.2,3.42],[3.8,3.84],[3.8,3.68],[3.2,3.06],[2.5,2.36],[1.5,1.32],[.5,.3],[-.2,-.4]];
const blobF=[[-.78,-.15],[-.92,-.35],[-1.05,-.3],[-1.13,-.52],[-1.25,-.62],[-1.2,-.9],[-1.32,-1],[-1.25,-1.2],[-1.06,-1.15],[-.9,-1.18],[-.75,-1.05],[-.57,-1.03],[-.4,-.95],[-.23,-.64],[.12,-.25]];
const stripVF=[[-2,-2.3],[-2,-.6]];
const stripHF=[[-1.72,-2],[-.6,-2]];

const upTexts=[
 [420,19,'Upregulation at 15-20 mm:','#111','italic bold'],[420,31,'FDR < 0.05, 2041 geens','#e8a838','bold'],[420,43,'Fold change > 4, 545 genes','#c81e28','bold'],[420,55,'Fold change > 2, 1578 genes','#b98ae8','bold'],
 [629,192,'Upregulation at 0-5 mm:','#111','italic bold'],[629,204,'FDR < 0.05, 2159 geens','#e8a838','bold'],[629,216,'Fold change > 4, 449 genes','#2020d8','bold'],[629,229,'Fold change > 2, 1574 genes','#7ee040','bold'],
 [421,315,'Upregulation at 30-35 mm:','#111','italic bold'],[421,327,'FDR < 0.05, 2385 genes','#e8a030','bold'],[421,339,'Fold change > 4, 628 genes','#d02028','bold'],[421,351,'Fold change > 2, 1819 genes','#b060e0','bold'],
 [630,486,'Upregulation at 0-5 mm:','#111','italic bold'],[630,498,'FDR < 0.05, 2456 genes','#e89a3a','bold'],[630,510,'Fold change > 4, 625 genes','#2020d8','bold'],[630,522,'Fold change > 2, 1872 genes','#60b030','bold'],
 [419,609,'Upregulation at 15-20 mm:','#111','italic bold'],[419,621,'FDR < 0.05, 351 genes','#e8a030','bold'],[419,633,'Fold change > 4, 24 genes','#c82028','bold'],[419,645,'Fold change > 2, 211 genes','#e070e0','bold'],
 [634,782,'Upregulation at 30-35 mm:','#111','bold'],[634,794,'FDR < 0.05, 263 genes','#e87030','bold'],[634,806,'Fold change > 4, 33 genes','#2828d8','bold'],[634,818,'Fold change > 2, 173 genes','#4a9a30','bold']];
const panelLetters=[['A',6,8],['B',5,298],['C',6,599],['D',380,8],['E',380,300],['F',380,599]];

const FF='"Liberation Sans",Arial,sans-serif';
const grids=[
 {left:28,top:9,width:239,height:239,show:true,backgroundColor:'#e5e5e5',borderWidth:0,outerBoundsMode:'none'},
 {left:28,top:290,width:242,height:254,show:true,backgroundColor:'#fff',borderColor:'#aaa',borderWidth:2,outerBoundsMode:'none'},
 {left:45,top:635.3,width:295,height:161.4,outerBoundsMode:'none'},
 {left:411,top:5,width:347,height:238,show:true,backgroundColor:'#fff',borderColor:'#777',borderWidth:1.5,outerBoundsMode:'none'},
 {left:411,top:299.5,width:347.5,height:238,show:true,backgroundColor:'#fff',borderColor:'#777',borderWidth:1.5,outerBoundsMode:'none'},
 {left:411,top:595,width:347,height:239,show:true,backgroundColor:'#fff',borderColor:'#777',borderWidth:1.5,outerBoundsMode:'none'}];
const sub={s:{fontSize:6.5,verticalAlign:'bottom',lineHeight:6,color:'#444',padding:[6,0,0,0]}};
const noLine={show:false,onZero:false};
function rAxisX(i,min,max,name){return {gridIndex:i,type:'value',min,max,axisLine:noLine,splitLine:{show:false},axisTick:{customValues:[-2,-1,0,1,2,3,4],length:5,lineStyle:{color:'#666'}},axisLabel:{customValues:[-2,-1,0,1,2,3,4],margin:12,fontSize:10,color:'#333',fontFamily:FF},name,nameLocation:'middle',nameMoveOverlap:false,nameGap:22,nameTextStyle:{fontSize:9.2,color:'#333',fontFamily:FF,rich:sub}};}
function rAxisY(i,min,max,name){return {gridIndex:i,type:'value',min,max,axisLine:noLine,splitLine:{show:false},axisTick:{customValues:[-2,-1,0,1,2,3,4],length:5,lineStyle:{color:'#666'}},axisLabel:{customValues:[-2,-1,0,1,2,3,4],rotate:90,margin:12,fontSize:10,color:'#333',fontFamily:FF},name,nameLocation:'middle',nameMoveOverlap:false,nameGap:26,nameTextStyle:{fontSize:9.2,color:'#333',fontFamily:FF,rich:sub}};}
const xAxes=[
 {gridIndex:0,type:'value',min:-2.42,max:4.72,axisLine:noLine,splitLine:{show:true,lineStyle:{color:'#fff',width:1.2}},axisTick:{customValues:[-2,0,2,4],length:3,lineStyle:{color:'#555'}},axisLabel:{customValues:[-2,0,2,4],margin:5,fontSize:10,color:'#444',fontFamily:FF},name:'log{s|10}(FPKM)',nameLocation:'middle',nameMoveOverlap:false,nameGap:13,nameTextStyle:{fontSize:9,color:'#333',fontFamily:FF,rich:sub}},
 {gridIndex:1,type:'value',min:-12.57,max:4.68,axisLine:noLine,splitLine:{show:true,lineStyle:{color:'#f0f0f0',width:1}},axisTick:{customValues:[-10,-5,0],length:3,lineStyle:{color:'#777'}},axisLabel:{customValues:[-10,-5,0],margin:5,fontSize:10,color:'#444',fontFamily:FF},name:'PC1',nameLocation:'middle',nameMoveOverlap:false,nameGap:14,nameTextStyle:{fontSize:10.5,color:'#444',fontFamily:FF}},
 {gridIndex:2,type:'value',min:.158,max:9.46,axisLine:noLine,splitLine:{show:false},axisTick:{show:false},axisLabel:{customValues:[1,2,3,4,5,6,7,8,9],rotate:90,margin:4,fontSize:9.5,color:'#333',fontFamily:FF,formatter:v=>leafLabels[Math.round(v)-1]}},
 rAxisX(3,-2.593,4.47,'log{s|10}(FPKM_0-5 mm)'),rAxisX(4,-2.597,4.44,'log{s|10}(FPKM_0-5 mm)'),rAxisX(5,-2.635,4.56,'log{s|10}(FPKM_30-35 mm)')];
const yAxes=[
 {gridIndex:0,type:'value',min:-.03,max:.591,axisLine:noLine,splitLine:{show:true,lineStyle:{color:'#fff',width:1.2}},axisTick:{customValues:[0,.2,.4],length:3,lineStyle:{color:'#555'}},axisLabel:{customValues:[0,.2,.4],margin:5,fontSize:10,color:'#444',fontFamily:FF,formatter:v=>v.toFixed(1)},name:'density',nameLocation:'middle',nameMoveOverlap:false,nameGap:18,nameTextStyle:{fontSize:9,color:'#333',fontFamily:FF}},
 {gridIndex:1,type:'value',min:-3.63,max:4.07,axisLine:noLine,splitLine:{show:true,lineStyle:{color:'#f0f0f0',width:1}},axisTick:{customValues:[-2,0,2,4],length:3,lineStyle:{color:'#777'}},axisLabel:{customValues:[-2,0,2,4],margin:7,fontSize:10,color:'#444',fontFamily:FF},name:'PC2',nameLocation:'middle',nameMoveOverlap:false,nameGap:14,nameTextStyle:{fontSize:10.5,color:'#444',fontFamily:FF}},
 {gridIndex:2,type:'value',min:0,max:.15,axisLine:{show:true,onZero:false,lineStyle:{color:'#777',width:1.2}},splitLine:{show:false},axisTick:{customValues:[0,.05,.1,.15],length:6,lineStyle:{color:'#777',width:1.2}},axisLabel:{customValues:[0,.05,.1,.15],rotate:90,margin:10,fontSize:9.5,color:'#444',fontFamily:FF,formatter:v=>v.toFixed(2)}},
 rAxisY(3,-2.58,4.48,'log{s|10}(FPKM_15-20 mm)'),rAxisY(4,-2.64,4.55,'log{s|10}(FPKM_30-35 mm)'),rAxisY(5,-2.58,4.5,'log{s|10}(FPKM_15-20 mm)')];

function sc(g,data,color,size,op){return {type:'scatter',xAxisIndex:g,yAxisIndex:g,data,symbolSize:size||3.8,silent:true,animation:false,itemStyle:{color,opacity:op==null?1:op,borderWidth:0}};}
function poly(g,pts,color,op){return {type:'custom',xAxisIndex:g,yAxisIndex:g,coordinateSystem:'cartesian2d',data:pts,silent:true,animation:false,encode:{x:0,y:1},renderItem:(p,api)=>p.dataIndex===0?{type:'polygon',shape:{points:pts.map(q=>api.coord(q))},style:{fill:color,opacity:op==null?1:op}}:null};}
function strip(g,pts){return {type:'line',xAxisIndex:g,yAxisIndex:g,data:pts,symbol:'none',silent:true,animation:false,lineStyle:{color:'#000',width:3.4,cap:'round'}};}
const BL='#000',RD='#dd0a0a',BU='#1a1ae0',PK='#ecb8c4',OR='#e0a040',GR='#84ec38';
function panel(g,s){return [
 poly(g,s.denseRed,RD),poly(g,s.denseBlue,BU),poly(g,s.bandPink,PK),poly(g,s.bandGreen,GR),poly(g,s.bandOrange,OR),poly(g,s.blob,BL),poly(g,s.bandBlack,BL),
 strip(g,s.stripV),strip(g,s.stripH),sc(g,s.black,BL),sc(g,s.black2,BL),sc(g,s.red,RD),sc(g,s.red2,RD),sc(g,s.blue,BU),sc(g,s.blue2,BU),sc(g,s.green,GR),sc(g,s.pink,PK)];}

const series=[];
conditions.forEach((n,i)=>{series.push({name:n,type:'line',xAxisIndex:0,yAxisIndex:0,smooth:.3,symbol:'none',silent:true,animation:false,data:densityX.map((x,k)=>[x,densitySets[i][k]]),lineStyle:{color:conditionColors[i],width:.6},itemStyle:{color:conditionColors[i]},areaStyle:i===8?{color:'#5b8953',opacity:.97}:{color:conditionColors[i],opacity:.45}});});
series.push({type:'line',xAxisIndex:0,yAxisIndex:0,data:[],silent:true,z:1,markLine:{silent:true,symbol:'none',animation:false,z:1,label:{show:false},lineStyle:{color:'#efefef',width:.6,type:'solid'},data:[{xAxis:-1},{xAxis:1},{xAxis:3},{yAxis:.1},{yAxis:.3},{yAxis:.5}]}});
series.push({type:'line',xAxisIndex:1,yAxisIndex:1,data:[],silent:true,markLine:{silent:true,symbol:'none',animation:false,label:{show:false},lineStyle:{color:'#b4b4b4',width:2,type:'solid'},data:[{xAxis:0},{yAxis:0}]}});
series.push(poly(1,pcaMid,'#000',.12),poly(1,pcaInner,'#000',.45),poly(1,pcaCore,'#000',.9),sc(1,pcaPoints,'#222',1.6,.8),sc(1,pcaPoints2,'#111',1.6,.8),sc(1,pcaPoints3,'#111',1.6,.8));
varNames.forEach((n,i)=>{series.push({name:n,type:'line',xAxisIndex:1,yAxisIndex:1,symbol:'none',silent:true,animation:false,itemStyle:{color:varColors[i]},lineStyle:{color:varColors[i],width:1},data:[[0,0],varTips[i]],z:5});
 series.push({type:'scatter',xAxisIndex:1,yAxisIndex:1,symbolSize:0,silent:true,animation:false,data:[varLabels[i]],z:6,label:{show:true,position:'inside',formatter:n,fontFamily:'"Liberation Serif",serif',fontSize:13,color:varColors[i],opacity:.9}});});
series.push({type:'custom',xAxisIndex:2,yAxisIndex:2,coordinateSystem:'cartesian2d',data:dendroMerges,silent:true,animation:false,encode:{x:0,y:1},renderItem:(p,api)=>{const lx=api.value(0),ly=api.value(1),rx=api.value(2),ry=api.value(3),h=api.value(4);return {type:'polyline',shape:{points:[[lx,ly],[lx,h],[rx,h],[rx,ry]].map(q=>api.coord(q))},style:{fill:'none',stroke:'#8a8a8a',lineWidth:1.5}};}});
series.push(...panel(3,{denseRed:denseRedD,denseBlue:denseBlueD,bandPink:bandPinkD,bandGreen:bandGreenD,bandOrange:bandOrangeD,blob:blobD,bandBlack:bandBlackD,stripV:stripVD,stripH:stripHD,black:blackD,black2:blackD2,red:redD,red2:redD2,blue:blueD,blue2:blueD2,green:greenD,pink:pinkD}));
series.push(sc(3,orangeD,OR));
series.push(...panel(4,{denseRed:denseRedE,denseBlue:denseBlueE,bandPink:bandPinkE,bandGreen:bandGreenE,bandOrange:bandOrangeE,blob:blobE,bandBlack:bandBlackE,stripV:stripVE,stripH:stripHE,black:blackE,black2:blackE2,red:redE,red2:redE2,blue:blueE,blue2:blueE2,green:greenE,pink:pinkE}));
series.push(sc(5,pinkF,PK),sc(5,pinkF2,PK),sc(5,greenF,GR),sc(5,greenF2,GR),poly(5,bandOrangeF,OR),poly(5,bandOrangeLowF,OR),poly(5,blobF,BL),poly(5,bandBlackF,BL),strip(5,stripVF),strip(5,stripHF),sc(5,blackF,BL),sc(5,blackF2,BL),sc(5,redF,RD),sc(5,blueF,BU),sc(5,[[3.56,3.28]],OR));

const graphic=[];
panelLetters.forEach(l=>graphic.push({type:'text',x:l[1],y:l[2],z:50,style:{text:l[0],font:'13px '+FF,fill:'#111',verticalAlign:'middle'}}));
upTexts.forEach(t=>graphic.push({type:'text',x:t[0],y:t[1],z:50,style:{text:t[2],font:t[4]+' 9px '+FF,fill:t[3],verticalAlign:'middle'}}));
graphic.push({type:'text',x:144,y:3,z:50,style:{text:'genes',font:'9px '+FF,fill:'#333',align:'center',verticalAlign:'middle'}});
graphic.push({type:'text',x:279,y:60,z:50,style:{text:'condition',font:'bold 9px '+FF,fill:'#222',verticalAlign:'middle'}});
graphic.push({type:'text',x:282,y:348,z:50,style:{text:'var. names',font:'bold 9.2px '+FF,fill:'#222',verticalAlign:'middle'}});
graphic.push({type:'text',x:183,y:605,z:50,style:{text:'Sample dendogram for all genes expression',font:'bold 10.6px '+FF,fill:'#222',align:'center',verticalAlign:'middle'}});
varColors.forEach((c,i)=>{const y=362.4+i*14.78;
 graphic.push({type:'line',z:50,shape:{x1:283,y1:y,x2:296,y2:y},style:{stroke:c,lineWidth:.8,opacity:.8}});
 graphic.push({type:'text',x:289.5,y:y,z:51,style:{text:'a',font:'11px "Liberation Sans"',fill:c,align:'center',verticalAlign:'middle'}});});

const option={animation:false,backgroundColor:'#fff',textStyle:{fontFamily:FF},grid:grids,xAxis:xAxes,yAxis:yAxes,series,graphic,
 legend:[
  {left:278,top:66,padding:0,orient:'vertical',itemWidth:16,itemHeight:14.8,itemGap:-1,selectedMode:false,textStyle:{fontSize:9.3,color:'#333',fontFamily:FF},
   data:conditions.map((n,i)=>({name:n,icon:'path://M0 0H16V16H0Z M0 16L16 0',itemStyle:{color:conditionColors[i]+'66',borderColor:conditionColors[i],borderWidth:1}}))},
  {left:282,top:355,padding:0,orient:'vertical',itemWidth:15,itemHeight:14.8,itemGap:-1,selectedMode:false,textStyle:{fontSize:9.3,color:'#333',fontFamily:FF},formatter:n=>conditions[varNames.indexOf(n)],
   data:varNames.map(n=>({name:n,icon:'rect',itemStyle:{color:'#fff',borderColor:'#ccc',borderWidth:1}}))}]};
const chart=echarts.init(document.getElementById('c'),null,{renderer:'canvas',width:760,height:870});
chart.setOption(option);
</script></body></html>
